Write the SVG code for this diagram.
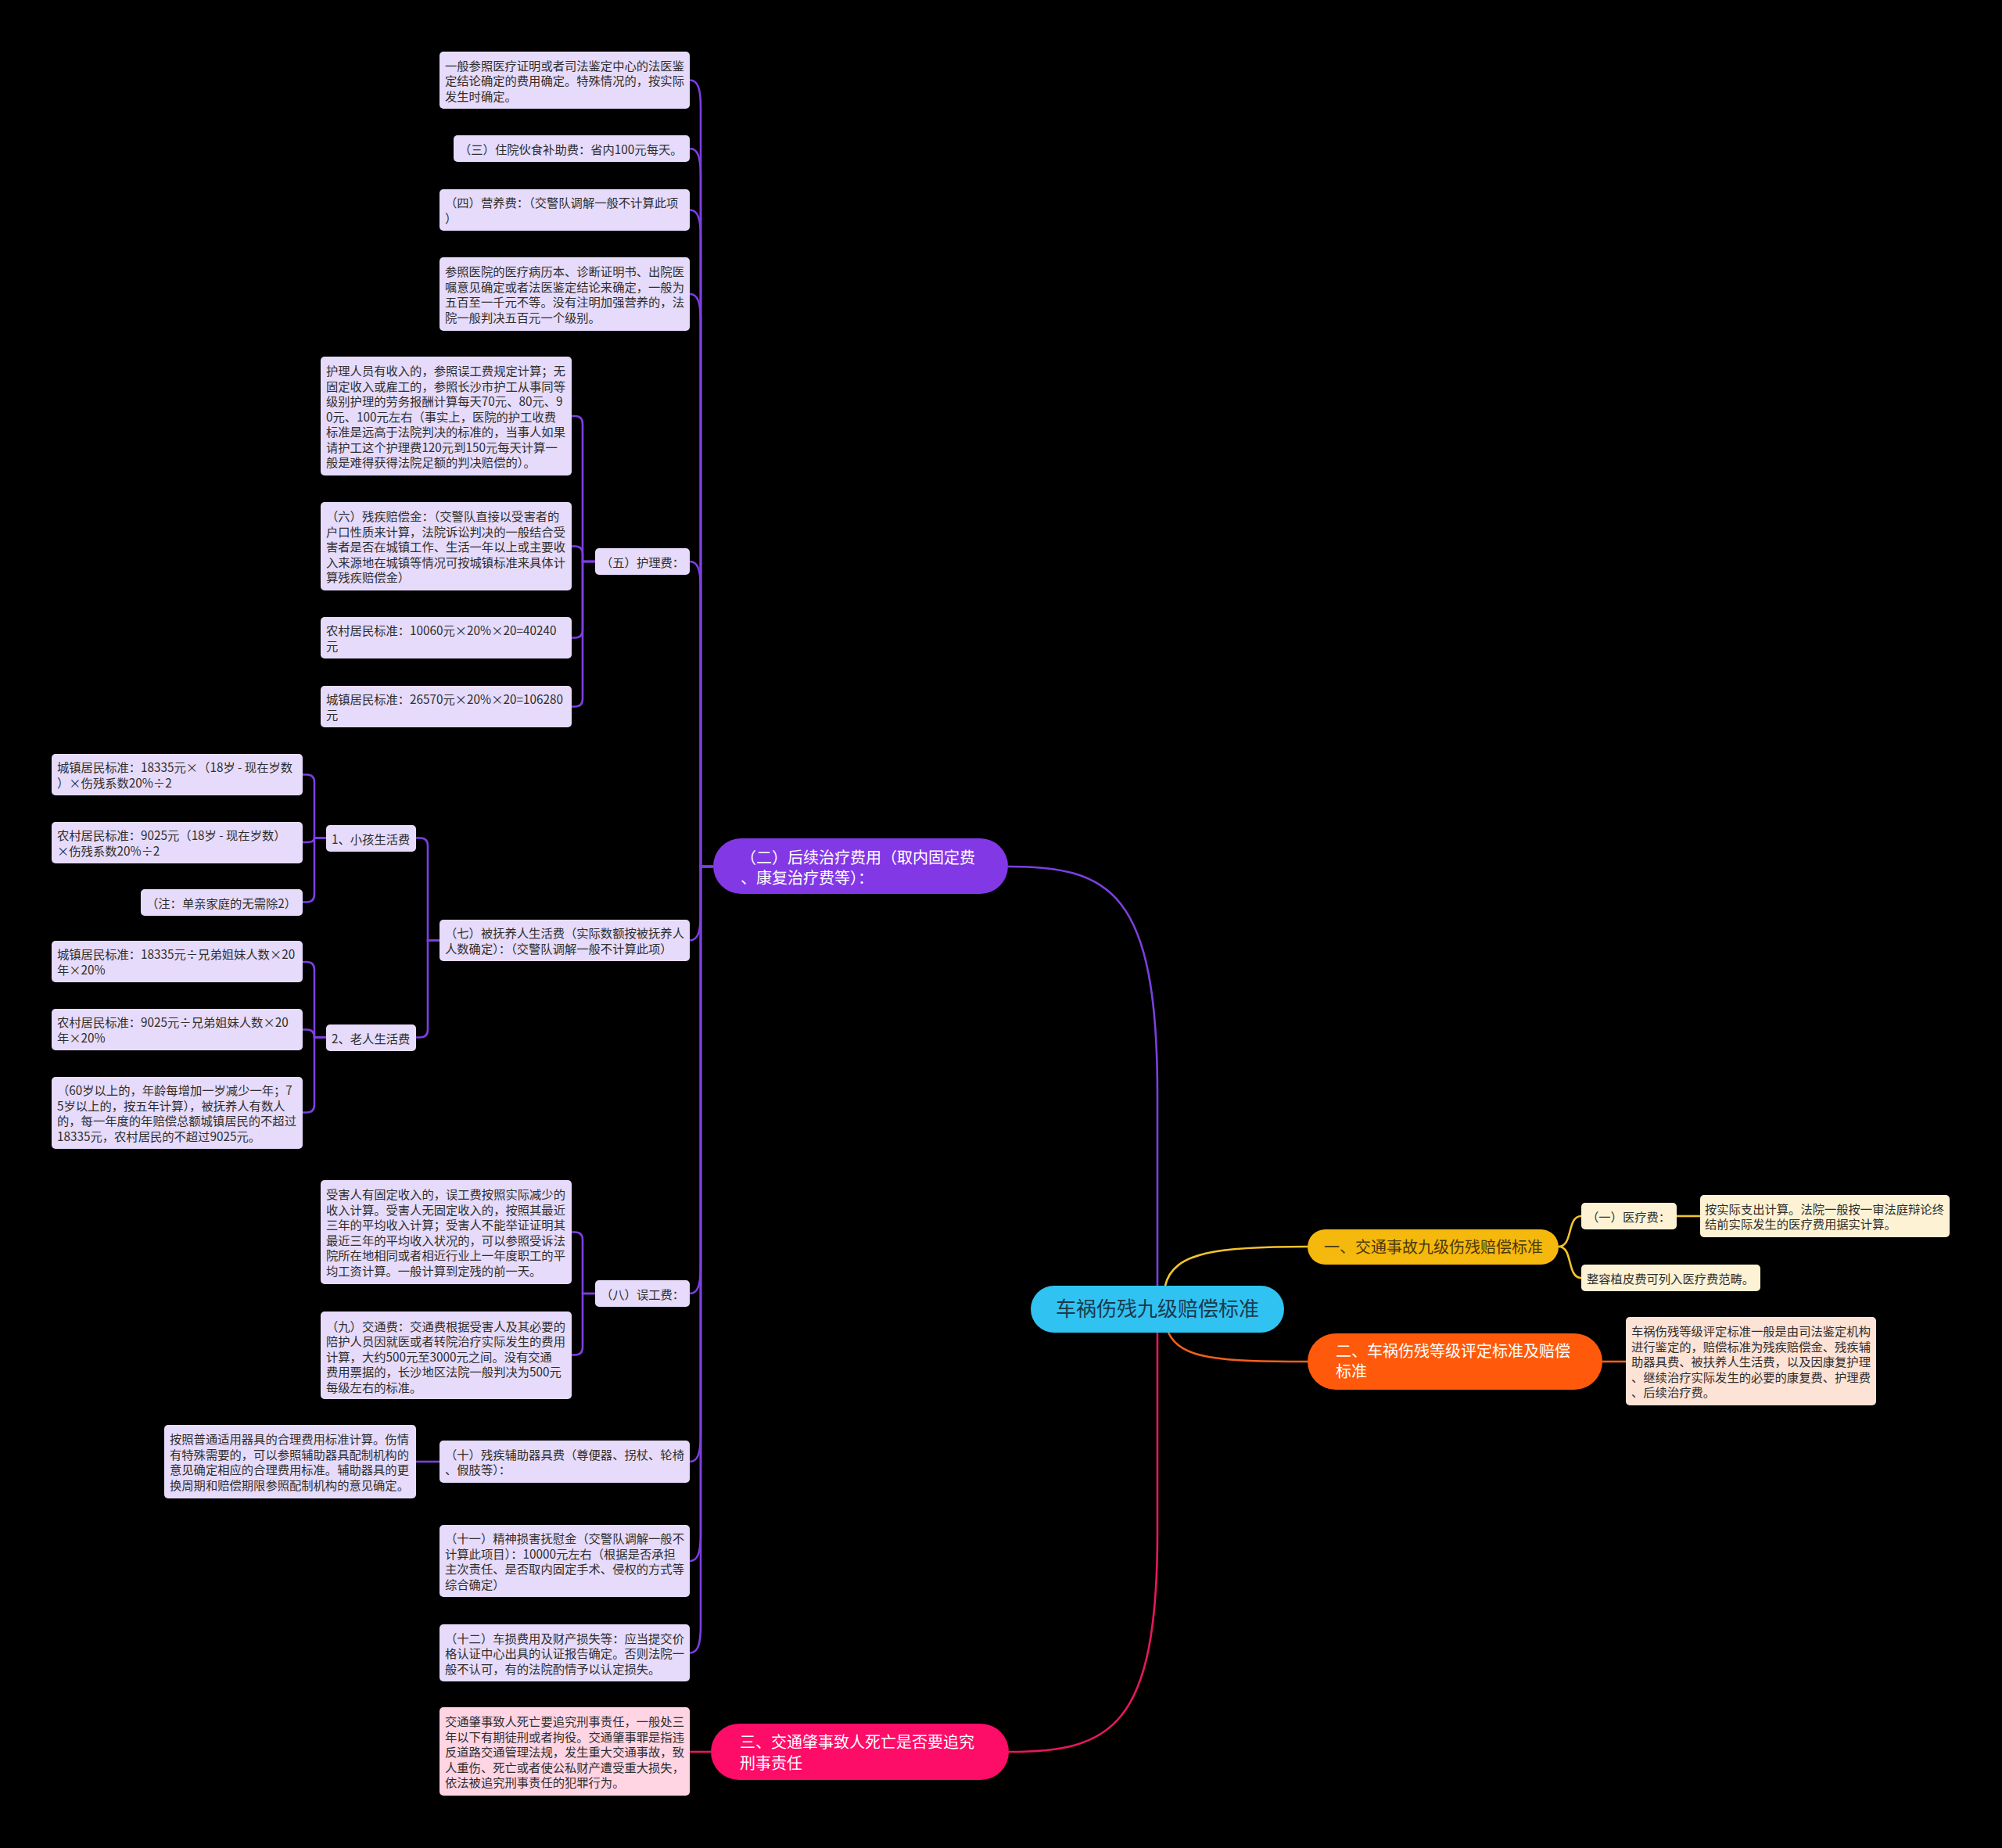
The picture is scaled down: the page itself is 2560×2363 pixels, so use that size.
<svg xmlns="http://www.w3.org/2000/svg" width="2560" height="2363" viewBox="0 0 2560 2363">
<style>
text{font-family:"Noto Sans CJK SC","Noto Sans",sans-serif;}
.lf{fill:#e6dbfa;}
.lt{font-size:15.3px;fill:#2e2e2e;}
.yl{fill:#fdf3d4;}
.pl{fill:#fde2d6;}
.kl{fill:#ffd5e4;}
.mt{font-size:20px;fill:#ffffff;}
.cp{fill:none;stroke:#7c3fe0;stroke-width:2.6;}
.cy{fill:none;stroke:#f2c22e;stroke-width:2.6;}
.co{fill:none;stroke:#f2601c;stroke-width:2.6;}
.cr{fill:none;stroke:#e8175e;stroke-width:2.6;}
</style>
<rect width="2560" height="2363" fill="#000000"/>
<g id="connectors">
<path class="cp" d="M1289,1108 C1420,1108 1480,1140 1480,1400 L1480,1644"/>
<path class="cr" d="M1480,1704 L1480,1960 C1480,2210 1420,2240 1290,2240"/>
<path class="cy" d="M1490,1644 C1500,1600 1560,1594 1672,1594"/>
<path class="co" d="M1494,1704 C1510,1738 1560,1741 1672,1741"/>
<path class="cy" d="M1993,1594 C2012,1594 2003,1555 2022,1555"/>
<path class="cy" d="M1993,1594 C2012,1594 2003,1634 2022,1634"/>
<path class="cy" d="M2144,1555 L2174,1555"/>
<path class="co" d="M2049,1741 L2079,1741"/>
<path class="cr" d="M909,2240 L882,2240"/>
<path class="cp" d="M912,1108 H896 V137.5 C896,112.5 892,102.5 882,102.5"/>
<path class="cp" d="M912,1108 H896 V225 C896,200 892,190 882,190"/>
<path class="cp" d="M912,1108 H896 V303.5 C896,278.5 892,268.5 882,268.5"/>
<path class="cp" d="M912,1108 H896 V411 C896,386 892,376 882,376"/>
<path class="cp" d="M912,1108 H896 V753 C896,728 892,718 882,718"/>
<path class="cp" d="M912,1108 H896 V1167.5 C896,1192.5 892,1202.5 882,1202.5"/>
<path class="cp" d="M912,1108 H896 V1619 C896,1644 892,1654 882,1654"/>
<path class="cp" d="M912,1108 H896 V1834 C896,1859 892,1869 882,1869"/>
<path class="cp" d="M912,1108 H896 V1961 C896,1986 892,1996 882,1996"/>
<path class="cp" d="M912,1108 H896 V2078.5 C896,2103.5 892,2113.5 882,2113.5"/>
<path class="cp" d="M761,718 H745 V542 Q745,532 735,532 H731"/>
<path class="cp" d="M761,718 H745 V708.5 Q745,698.5 735,698.5 H731"/>
<path class="cp" d="M761,718 H745 V805.5 Q745,815.5 735,815.5 H731"/>
<path class="cp" d="M761,718 H745 V893.5 Q745,903.5 735,903.5 H731"/>
<path class="cp" d="M562,1202.5 H547 V1081.5 Q547,1071.5 537,1071.5 H532"/>
<path class="cp" d="M562,1202.5 H547 V1316.5 Q547,1326.5 537,1326.5 H532"/>
<path class="cp" d="M417,1071.5 H402 V1000.5 Q402,990.5 392,990.5 H387"/>
<path class="cp" d="M417,1071.5 H402 Q402,1077 392,1077 H387"/>
<path class="cp" d="M417,1071.5 H402 V1143.5 Q402,1153.5 392,1153.5 H387"/>
<path class="cp" d="M417,1326.5 H402 V1240 Q402,1230 392,1230 H387"/>
<path class="cp" d="M417,1326.5 H402 Q402,1316.5 392,1316.5 H387"/>
<path class="cp" d="M417,1326.5 H402 V1412.5 Q402,1422.5 392,1422.5 H387"/>
<path class="cp" d="M761,1654 H745 V1585.5 Q745,1575.5 735,1575.5 H731"/>
<path class="cp" d="M761,1654 H745 V1722.5 Q745,1732.5 735,1732.5 H731"/>
<path class="cp" d="M562,1869 L532,1869"/>
</g>
<g id="root">
<rect x="1318" y="1644" width="324" height="60" rx="30" fill="#30c3f2"/>
<text x="1480" y="1683" text-anchor="middle" style="font-size:26px;fill:#1b3a4e">车祸伤残九级赔偿标准</text>
</g>
<g id="n-yi">
<rect x="1672" y="1572" width="321" height="45" rx="22.5" fill="#f5b80c"/>
<text x="1693" y="1602" style="font-size:20px;fill:#4a3a0e">一、交通事故九级伤残赔偿标准</text>
</g>
<g id="n-yiliao">
<rect class="yl" x="2022" y="1538" width="122" height="34" rx="5"/>
<text class="lt" x="2029" y="1561.5">（一）医疗费：</text>
</g>
<g id="n-anshiji">
<rect class="yl" x="2174" y="1528" width="319" height="54" rx="5"/>
<text class="lt" x="2180" y="1551.75">按实际支出计算。法院一般按一审法庭辩论终<tspan x="2180" dy="19.5">结前实际发生的医疗费用据实计算。</tspan></text>
</g>
<g id="n-zhengrong">
<rect class="yl" x="2022" y="1617" width="229" height="34" rx="5"/>
<text class="lt" x="2029" y="1640.5">整容植皮费可列入医疗费范畴。</text>
</g>
<g id="n-er-right">
<rect x="1672" y="1705" width="377" height="72" rx="36" fill="#ff5a0b"/>
<text class="mt" x="1708" y="1735">二、车祸伤残等级评定标准及赔偿<tspan x="1708" dy="26">标准</tspan></text>
</g>
<g id="n-er-leaf">
<rect class="pl" x="2079" y="1684" width="320" height="113" rx="5"/>
<text class="lt" x="2086" y="1708">车祸伤残等级评定标准一般是由司法鉴定机构<tspan x="2086" dy="19.5">进行鉴定的，赔偿标准为残疾赔偿金、残疾辅</tspan><tspan x="2086" dy="19.5">助器具费、被扶养人生活费，以及因康复护理</tspan><tspan x="2086" dy="19.5">、继续治疗实际发生的必要的康复费、护理费</tspan><tspan x="2086" dy="19.5">、后续治疗费。</tspan></text>
</g>
<g id="n-san">
<rect x="909" y="2204" width="381" height="72" rx="36" fill="#fd0c68"/>
<text class="mt" x="946" y="2235">三、交通肇事致人死亡是否要追究<tspan x="946" dy="27">刑事责任</tspan></text>
</g>
<g id="n-san-leaf">
<rect class="kl" x="562" y="2183" width="320" height="113" rx="5"/>
<text class="lt" x="569" y="2207">交通肇事致人死亡要追究刑事责任，一般处三<tspan x="569" dy="19.5">年以下有期徒刑或者拘役。交通肇事罪是指违</tspan><tspan x="569" dy="19.5">反道路交通管理法规，发生重大交通事故，致</tspan><tspan x="569" dy="19.5">人重伤、死亡或者使公私财产遭受重大损失，</tspan><tspan x="569" dy="19.5">依法被追究刑事责任的犯罪行为。</tspan></text>
</g>
<g id="n-houxu">
<rect x="912" y="1072" width="377" height="71" rx="35.5" fill="#8338e6"/>
<text class="mt" x="947" y="1104">（二）后续治疗费用（取内固定费<tspan x="947" dy="26">、康复治疗费等）：</tspan></text>
</g>
<g id="n-a">
<rect class="lf" x="562" y="66" width="320" height="73" rx="5"/>
<text class="lt" x="569" y="89.5">一般参照医疗证明或者司法鉴定中心的法医鉴<tspan x="569" dy="19.5">定结论确定的费用确定。特殊情况的，按实际</tspan><tspan x="569" dy="19.5">发生时确定。</tspan></text>
</g>
<g id="n-san-zhuyuan">
<rect class="lf" x="580" y="173" width="302" height="34" rx="5"/>
<text class="lt" x="587" y="196.5">（三）住院伙食补助费：省内100元每天。</text>
</g>
<g id="n-si">
<rect class="lf" x="562" y="242" width="320" height="53" rx="5"/>
<text class="lt" x="569" y="265.25">（四）营养费：（交警队调解一般不计算此项<tspan x="569" dy="19.5">）</tspan></text>
</g>
<g id="n-d">
<rect class="lf" x="562" y="329" width="320" height="94" rx="5"/>
<text class="lt" x="569" y="353.25">参照医院的医疗病历本、诊断证明书、出院医<tspan x="569" dy="19.5">嘱意见确定或者法医鉴定结论来确定，一般为</tspan><tspan x="569" dy="19.5">五百至一千元不等。没有注明加强营养的，法</tspan><tspan x="569" dy="19.5">院一般判决五百元一个级别。</tspan></text>
</g>
<g id="n-wu">
<rect class="lf" x="761" y="701" width="121" height="34" rx="5"/>
<text class="lt" x="768" y="724.5">（五）护理费：</text>
</g>
<g id="n-huli">
<rect class="lf" x="410" y="456" width="321" height="152" rx="5"/>
<text class="lt" x="417" y="480">护理人员有收入的，参照误工费规定计算；无<tspan x="417" dy="19.5">固定收入或雇工的，参照长沙市护工从事同等</tspan><tspan x="417" dy="19.5">级别护理的劳务报酬计算每天70元、80元、9</tspan><tspan x="417" dy="19.5">0元、100元左右（事实上，医院的护工收费</tspan><tspan x="417" dy="19.5">标准是远高于法院判决的标准的，当事人如果</tspan><tspan x="417" dy="19.5">请护工这个护理费120元到150元每天计算一</tspan><tspan x="417" dy="19.5">般是难得获得法院足额的判决赔偿的）。</tspan></text>
</g>
<g id="n-liu">
<rect class="lf" x="410" y="642" width="321" height="113" rx="5"/>
<text class="lt" x="417" y="666">（六）残疾赔偿金：（交警队直接以受害者的<tspan x="417" dy="19.5">户口性质来计算，法院诉讼判决的一般结合受</tspan><tspan x="417" dy="19.5">害者是否在城镇工作、生活一年以上或主要收</tspan><tspan x="417" dy="19.5">入来源地在城镇等情况可按城镇标准来具体计</tspan><tspan x="417" dy="19.5">算残疾赔偿金）</tspan></text>
</g>
<g id="n-nongcun1">
<rect class="lf" x="410" y="789" width="321" height="53" rx="5"/>
<text class="lt" x="417" y="812.25">农村居民标准：10060元×20%×20=40240<tspan x="417" dy="19.5">元</tspan></text>
</g>
<g id="n-chengzhen1">
<rect class="lf" x="410" y="877" width="321" height="53" rx="5"/>
<text class="lt" x="417" y="900.25">城镇居民标准：26570元×20%×20=106280<tspan x="417" dy="19.5">元</tspan></text>
</g>
<g id="n-qi">
<rect class="lf" x="562" y="1176" width="320" height="53" rx="5"/>
<text class="lt" x="569" y="1199.25">（七）被抚养人生活费（实际数额按被抚养人<tspan x="569" dy="19.5">人数确定）：（交警队调解一般不计算此项）</tspan></text>
</g>
<g id="n-xiaohai">
<rect class="lf" x="417" y="1055" width="115" height="34" rx="5"/>
<text class="lt" x="424" y="1078.5">1、小孩生活费</text>
</g>
<g id="n-laoren">
<rect class="lf" x="417" y="1310" width="115" height="34" rx="5"/>
<text class="lt" x="424" y="1333.5">2、老人生活费</text>
</g>
<g id="n-xh1">
<rect class="lf" x="66" y="964" width="321" height="53" rx="5"/>
<text class="lt" x="73" y="987.25">城镇居民标准：18335元×（18岁 - 现在岁数<tspan x="73" dy="19.5">）×伤残系数20%÷2</tspan></text>
</g>
<g id="n-xh2">
<rect class="lf" x="66" y="1051" width="321" height="53" rx="5"/>
<text class="lt" x="73" y="1074.25">农村居民标准：9025元（18岁 - 现在岁数）<tspan x="73" dy="19.5">×伤残系数20%÷2</tspan></text>
</g>
<g id="n-xh3">
<rect class="lf" x="180" y="1137" width="207" height="34" rx="5"/>
<text class="lt" x="187" y="1160.5">（注：单亲家庭的无需除2）</text>
</g>
<g id="n-lr1">
<rect class="lf" x="66" y="1203" width="321" height="53" rx="5"/>
<text class="lt" x="73" y="1226.25">城镇居民标准：18335元÷兄弟姐妹人数×20<tspan x="73" dy="19.5">年×20%</tspan></text>
</g>
<g id="n-lr2">
<rect class="lf" x="66" y="1290" width="321" height="53" rx="5"/>
<text class="lt" x="73" y="1313.25">农村居民标准：9025元÷兄弟姐妹人数×20<tspan x="73" dy="19.5">年×20%</tspan></text>
</g>
<g id="n-lr3">
<rect class="lf" x="66" y="1377" width="321" height="92" rx="5"/>
<text class="lt" x="73" y="1400.25">（60岁以上的，年龄每增加一岁减少一年；7<tspan x="73" dy="19.5">5岁以上的，按五年计算），被抚养人有数人</tspan><tspan x="73" dy="19.5">的，每一年度的年赔偿总额城镇居民的不超过</tspan><tspan x="73" dy="19.5">18335元，农村居民的不超过9025元。</tspan></text>
</g>
<g id="n-ba">
<rect class="lf" x="761" y="1637" width="121" height="34" rx="5"/>
<text class="lt" x="768" y="1660.5">（八）误工费：</text>
</g>
<g id="n-wugong">
<rect class="lf" x="410" y="1509" width="321" height="133" rx="5"/>
<text class="lt" x="417" y="1533.25">受害人有固定收入的，误工费按照实际减少的<tspan x="417" dy="19.5">收入计算。受害人无固定收入的，按照其最近</tspan><tspan x="417" dy="19.5">三年的平均收入计算；受害人不能举证证明其</tspan><tspan x="417" dy="19.5">最近三年的平均收入状况的，可以参照受诉法</tspan><tspan x="417" dy="19.5">院所在地相同或者相近行业上一年度职工的平</tspan><tspan x="417" dy="19.5">均工资计算。一般计算到定残的前一天。</tspan></text>
</g>
<g id="n-jiu">
<rect class="lf" x="410" y="1677" width="321" height="112" rx="5"/>
<text class="lt" x="417" y="1701.5">（九）交通费：交通费根据受害人及其必要的<tspan x="417" dy="19.5">陪护人员因就医或者转院治疗实际发生的费用</tspan><tspan x="417" dy="19.5">计算，大约500元至3000元之间。没有交通</tspan><tspan x="417" dy="19.5">费用票据的，长沙地区法院一般判决为500元</tspan><tspan x="417" dy="19.5">每级左右的标准。</tspan></text>
</g>
<g id="n-shi">
<rect class="lf" x="562" y="1842" width="320" height="54" rx="5"/>
<text class="lt" x="569" y="1865.5">（十）残疾辅助器具费（尊便器、拐杖、轮椅<tspan x="569" dy="19.5">、假肢等）：</tspan></text>
</g>
<g id="n-anzhao">
<rect class="lf" x="210" y="1822" width="322" height="94" rx="5"/>
<text class="lt" x="217" y="1846.25">按照普通适用器具的合理费用标准计算。伤情<tspan x="217" dy="19.5">有特殊需要的，可以参照辅助器具配制机构的</tspan><tspan x="217" dy="19.5">意见确定相应的合理费用标准。辅助器具的更</tspan><tspan x="217" dy="19.5">换周期和赔偿期限参照配制机构的意见确定。</tspan></text>
</g>
<g id="n-shiyi">
<rect class="lf" x="562" y="1950" width="320" height="92" rx="5"/>
<text class="lt" x="569" y="1973.25">（十一）精神损害抚慰金（交警队调解一般不<tspan x="569" dy="19.5">计算此项目）：10000元左右（根据是否承担</tspan><tspan x="569" dy="19.5">主次责任、是否取内固定手术、侵权的方式等</tspan><tspan x="569" dy="19.5">综合确定）</tspan></text>
</g>
<g id="n-shier">
<rect class="lf" x="562" y="2077" width="320" height="73" rx="5"/>
<text class="lt" x="569" y="2100.5">（十二）车损费用及财产损失等：应当提交价<tspan x="569" dy="19.5">格认证中心出具的认证报告确定。否则法院一</tspan><tspan x="569" dy="19.5">般不认可，有的法院酌情予以认定损失。</tspan></text>
</g>
</svg>
